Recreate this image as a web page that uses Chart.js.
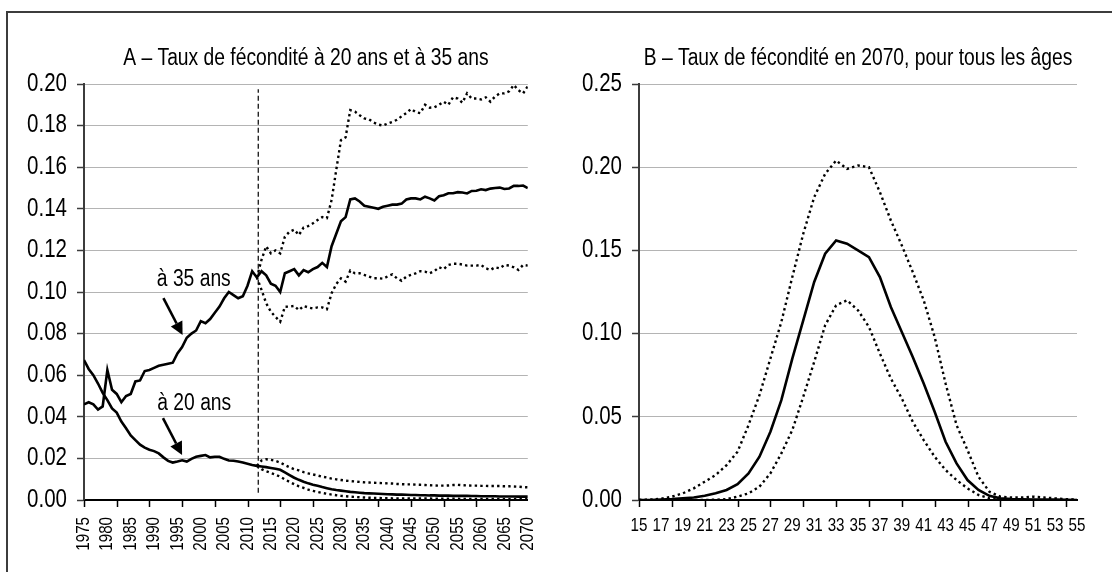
<!DOCTYPE html>
<html>
<head>
<meta charset="utf-8">
<script src="https://cdn.jsdelivr.net/npm/chart.js@4.4.0/dist/chart.umd.min.js"></script>
<style>
  body { margin: 0; background: #fff; }
  #wrap { position: relative; width: 1112px; height: 572px; overflow: hidden; }
  #frame { position: absolute; left: 6px; top: 11px; width: 1300px; height: 800px;
           border-left: 2px solid #3c3c3c; border-top: 2px solid #3c3c3c; }
  .box { position: absolute; top: 0; height: 572px; }
</style>
</head>
<body>
<div id="wrap">
  <div id="frame"></div>
  <div class="box" style="left:0;width:560px"><canvas id="chartA"></canvas></div>
  <div class="box" style="left:560px;width:552px"><canvas id="chartB"></canvas></div>
</div>
<script>
// ---- Panel A: rates at age 20 and 35, 1975-2070 ----
const firstYear = 1975;
const lastYear = 2070;
const projStart = 2012;
const yearLabels = [1975, 1980, 1985, 1990, 1995, 2000, 2005, 2010, 2015, 2020,
  2025, 2030, 2035, 2040, 2045, 2050, 2055, 2060, 2065, 2070];
const yearMarks = [1975, 1982, 1989, 1996, 2003, 2010, 2017, 2024, 2031, 2038,
  2045, 2052, 2059, 2066];
const rateTicksA = [0, 0.02, 0.04, 0.06, 0.08, 0.10, 0.12, 0.14, 0.16, 0.18, 0.20];

// central series, one value per year from 1975
const rate35 = [
  0.046, 0.047, 0.046, 0.0435, 0.045, 0.0625, 0.053, 0.051, 0.047, 0.050,
  0.051, 0.057, 0.0575, 0.062, 0.0625, 0.0635, 0.0645, 0.065, 0.0655, 0.066,
  0.0705, 0.0735, 0.078, 0.080, 0.0815, 0.086, 0.085, 0.087, 0.090, 0.093,
  0.097, 0.100, 0.0985, 0.097, 0.098, 0.103, 0.110, 0.107, 0.110, 0.108,
  0.104, 0.103, 0.100, 0.109, 0.110, 0.111, 0.108, 0.1105, 0.1095, 0.111,
  0.112, 0.114, 0.112, 0.122, 0.128, 0.134, 0.136, 0.1445, 0.145, 0.1435,
  0.1415, 0.141, 0.1405, 0.140, 0.141, 0.1415, 0.142, 0.142, 0.1425, 0.1445,
  0.145, 0.145, 0.1445, 0.1458, 0.145, 0.144, 0.146, 0.1465, 0.1475, 0.1475,
  0.148, 0.1478, 0.1474, 0.1486, 0.1487, 0.1494, 0.149, 0.1497, 0.150, 0.1502,
  0.1495, 0.1498, 0.151, 0.151, 0.1512, 0.150
];
const rate20 = [
  0.0673, 0.063, 0.060, 0.056, 0.0515, 0.048, 0.044, 0.042, 0.0377, 0.0345,
  0.031, 0.0288, 0.0266, 0.0252, 0.0242, 0.0235, 0.0224, 0.0205, 0.0188, 0.018,
  0.0185, 0.0191, 0.0185, 0.0198, 0.0208, 0.0212, 0.0216, 0.0205, 0.0208, 0.0208,
  0.0198, 0.019, 0.0189, 0.0185, 0.018, 0.0174, 0.0168, 0.0164, 0.0161, 0.0158,
  0.0154, 0.015, 0.0145, 0.0133, 0.012, 0.0107, 0.0097, 0.0088, 0.008, 0.0073,
  0.0068, 0.0062, 0.0057, 0.0052, 0.0048, 0.0045, 0.0042, 0.0039, 0.0037, 0.0035,
  0.0033, 0.0032, 0.0031, 0.003, 0.0029, 0.0028, 0.0027, 0.0026, 0.0026, 0.0025,
  0.0024, 0.0024, 0.0023, 0.0023, 0.0022, 0.0022, 0.0021, 0.0021, 0.0021, 0.002,
  0.002, 0.002, 0.002, 0.0019, 0.0019, 0.0018, 0.0018, 0.0018, 0.0018, 0.0017,
  0.0017, 0.0017, 0.0017, 0.0016, 0.0016, 0.0016
];

// projection bounds, one value per year from 2012
const rate35High = [
  0.107, 0.1155, 0.122, 0.1186, 0.120, 0.1186, 0.1266, 0.129, 0.130, 0.1274,
  0.131, 0.1317, 0.133, 0.1346, 0.136, 0.1355, 0.1442, 0.1587, 0.173, 0.1744,
  0.1875, 0.1867, 0.185, 0.1835, 0.183, 0.1815, 0.1805, 0.180, 0.181, 0.1818,
  0.1828, 0.1845, 0.186, 0.188, 0.1865, 0.186, 0.190, 0.1886, 0.1888, 0.190,
  0.1915, 0.190, 0.1936, 0.193, 0.191, 0.1955, 0.193, 0.193, 0.1926, 0.1936,
  0.1915, 0.194, 0.1955, 0.1955, 0.1965, 0.1995, 0.197, 0.1955, 0.199
];
const rate35Low = [
  0.107, 0.101, 0.0946, 0.0905, 0.088, 0.0857, 0.0929, 0.093, 0.0933, 0.0913,
  0.0933, 0.0926, 0.0921, 0.0926, 0.0926, 0.0917, 0.0994, 0.1038, 0.1066, 0.105,
  0.1103, 0.109, 0.109, 0.1082, 0.1074, 0.1066, 0.1066, 0.1064, 0.1075, 0.1085,
  0.1066, 0.1054, 0.1074, 0.1082, 0.109, 0.110, 0.1098, 0.109, 0.110, 0.1119,
  0.111, 0.113, 0.1136, 0.1136, 0.1132, 0.1127, 0.1127, 0.1127, 0.113, 0.1114,
  0.1106, 0.1119, 0.1114, 0.113, 0.1127, 0.1119, 0.1106, 0.113, 0.1127
];
const rate20High = [
  0.0164, 0.019, 0.0196, 0.0193, 0.0188, 0.018, 0.0168, 0.0157, 0.0148, 0.0142,
  0.0134, 0.0128, 0.0123, 0.0118, 0.0112, 0.0108, 0.0103, 0.0099, 0.0096, 0.0093,
  0.0091, 0.0089, 0.0087, 0.0085, 0.0084, 0.0083, 0.0082, 0.0081, 0.008, 0.0079,
  0.0077, 0.0076, 0.0075, 0.0075, 0.0074, 0.0073, 0.0072, 0.0071, 0.007, 0.0069,
  0.0069, 0.007, 0.0072, 0.0073, 0.0071, 0.007, 0.0069, 0.0069, 0.0068, 0.0068,
  0.0067, 0.0067, 0.0067, 0.0066, 0.0066, 0.0065, 0.0064, 0.0062, 0.0061
];
const rate20Low = [
  0.0164, 0.0148, 0.0138, 0.013, 0.0122, 0.0112, 0.0099, 0.0087, 0.0076, 0.0066,
  0.0058, 0.005, 0.0044, 0.0039, 0.0034, 0.003, 0.0026, 0.0023, 0.002, 0.0018,
  0.0016, 0.0015, 0.0013, 0.0012, 0.0011, 0.001, 0.001, 0.0009, 0.0009, 0.0008,
  0.0008, 0.0008, 0.0008, 0.0007, 0.0007, 0.0007, 0.0007, 0.0007, 0.0006, 0.0006,
  0.0006, 0.0006, 0.0006, 0.0006, 0.0005, 0.0005, 0.0005, 0.0005, 0.0005, 0.0005,
  0.0005, 0.0005, 0.0005, 0.0004, 0.0004, 0.0004, 0.0004, 0.0004, 0.0004
];

// ---- Panel B: rates by age in 2070 ----
const ages = [15, 16, 17, 18, 19, 20, 21, 22, 23, 24, 25, 26, 27, 28, 29, 30, 31, 32, 33, 34,
  35, 36, 37, 38, 39, 40, 41, 42, 43, 44, 45, 46, 47, 48, 49, 50, 51, 52, 53, 54, 55];
const ageLabels = [15, 17, 19, 21, 23, 25, 27, 29, 31, 33, 35, 37, 39, 41, 43, 45, 47, 49, 51, 53, 55];
const ageMarks = [15, 18, 21, 24, 27, 30, 33, 36, 39, 42, 45, 48, 51, 54];
const rateTicksB = [0, 0.05, 0.10, 0.15, 0.20, 0.25];
const ageMid = [
  0, 0, 0.0002, 0.0005, 0.001, 0.0015, 0.0025, 0.004, 0.006, 0.0095,
  0.016, 0.026, 0.041, 0.060, 0.085, 0.108, 0.131, 0.148, 0.156, 0.154,
  0.150, 0.146, 0.134, 0.116, 0.101, 0.086, 0.070, 0.053, 0.035, 0.022,
  0.012, 0.006, 0.0025, 0.001, 0.0006, 0.0004, 0.0003, 0.0003, 0.0002, 0.0001, 0
];
const ageHigh = [
  0, 0.0002, 0.0008, 0.002, 0.004, 0.007, 0.011, 0.015, 0.021, 0.029,
  0.045, 0.063, 0.085, 0.107, 0.134, 0.160, 0.182, 0.196, 0.204, 0.199,
  0.201, 0.200, 0.185, 0.168, 0.153, 0.137, 0.120, 0.098, 0.070, 0.045,
  0.030, 0.014, 0.005, 0.002, 0.0015, 0.0015, 0.002, 0.0015, 0.001, 0.0005, 0.0002
];
const ageLow = [
  0, 0, 0, 0, 0, 0, 0, 0.0002, 0.0005, 0.002,
  0.004, 0.008, 0.016, 0.028, 0.042, 0.062, 0.083, 0.105, 0.117, 0.120,
  0.114, 0.104, 0.088, 0.073, 0.061, 0.047, 0.036, 0.026, 0.018, 0.012,
  0.007, 0.003, 0.001, 0.0005, 0.0003, 0.0002, 0.0001, 0.0001, 0.0001, 0.0001, 0.0001
];

const FONT = "'Liberation Sans', Arial, sans-serif";
Chart.defaults.font.family = FONT;
Chart.defaults.color = '#000';

// No narrow font is installed: squeeze text drawn on our canvases horizontally
// (Arial Narrow is basically Arial at ~82% width). Text stays real fillText.
const NARROW = 0.82;
const origFillText = CanvasRenderingContext2D.prototype.fillText;
CanvasRenderingContext2D.prototype.fillText = function (text, x, y, maxWidth) {
  const k = this.narrow;
  if (!k) return origFillText.apply(this, arguments);
  this.save();
  this.translate(x, y);
  this.scale(k, 1);
  if (maxWidth === undefined) origFillText.call(this, text, 0, 0);
  else origFillText.call(this, text, 0, 0, maxWidth / k);
  this.restore();
};
const origMeasure = CanvasRenderingContext2D.prototype.measureText;
CanvasRenderingContext2D.prototype.measureText = function (text) {
  const m = origMeasure.call(this, text);
  const k = this.narrow;
  if (!k) return m;
  return {
    width: m.width * k,
    actualBoundingBoxLeft: m.actualBoundingBoxLeft * k,
    actualBoundingBoxRight: m.actualBoundingBoxRight * k,
    actualBoundingBoxAscent: m.actualBoundingBoxAscent,
    actualBoundingBoxDescent: m.actualBoundingBoxDescent
  };
};

const toPoints = (start, vals) => vals.map((v, i) => ({ x: start + i, y: v }));

const solidLine = { borderColor: '#000', borderWidth: 2.6, pointRadius: 0, tension: 0, fill: false };
const dottedLine = { ...solidLine, borderWidth: 2.4, borderDash: [2.4, 3.2] };

// small tick marks under the x axis (they are not at the label positions)
const xTickMarks = {
  id: 'xTickMarks',
  afterDraw(chart, args, opts) {
    const { ctx } = chart;
    const x = chart.scales.x;
    const y0 = chart.chartArea.bottom;
    ctx.save();
    ctx.strokeStyle = '#000';
    ctx.lineWidth = 1.5;
    opts.values.forEach(v => {
      const px = Math.round(x.getPixelForValue(v)) + 0.5;
      ctx.beginPath();
      ctx.moveTo(px, y0);
      ctx.lineTo(px, y0 + 7);
      ctx.stroke();
    });
    ctx.restore();
  }
};

function drawArrow(ctx, x1, y1, x2, y2) {
  const a = Math.atan2(y2 - y1, x2 - x1);
  const L = 13, W = 6.5;
  const bx = x2 - L * Math.cos(a), by = y2 - L * Math.sin(a);
  ctx.beginPath();
  ctx.moveTo(x1, y1);
  ctx.lineTo(bx, by);
  ctx.stroke();
  ctx.beginPath();
  ctx.moveTo(x2, y2);
  ctx.lineTo(bx - W * Math.sin(a), by + W * Math.cos(a));
  ctx.lineTo(bx + W * Math.sin(a), by - W * Math.cos(a));
  ctx.closePath();
  ctx.fill();
}

// projection start line + "à 20 ans" / "à 35 ans" labels, placed in data units
const annotations = {
  id: 'annotations',
  afterDatasetsDraw(chart, args, opts) {
    const { ctx } = chart;
    const { x, y } = chart.scales;
    ctx.save();
    ctx.strokeStyle = '#000';
    ctx.fillStyle = '#000';
    if (opts.split) {
      const px = x.getPixelForValue(opts.split.x);
      ctx.lineWidth = 1.2;
      ctx.setLineDash([5, 3]);
      ctx.beginPath();
      ctx.moveTo(px, y.getPixelForValue(opts.split.from));
      ctx.lineTo(px, y.getPixelForValue(opts.split.to));
      ctx.stroke();
      ctx.setLineDash([]);
    }
    ctx.font = '23.5px ' + FONT;
    ctx.textAlign = 'center';
    ctx.textBaseline = 'middle';
    ctx.lineWidth = 2.6;
    (opts.notes || []).forEach(n => {
      ctx.fillText(n.text, x.getPixelForValue(n.at[0]), y.getPixelForValue(n.at[1]));
      drawArrow(ctx,
        x.getPixelForValue(n.from[0]), y.getPixelForValue(n.from[1]),
        x.getPixelForValue(n.to[0]), y.getPixelForValue(n.to[1]));
    });
    ctx.restore();
  }
};

function yAxis(max, ticks, width) {
  return {
    min: 0, max: max,
    afterBuildTicks: s => { s.ticks = ticks.map(v => ({ value: v })); },
    afterFit: s => { s.width = width; },
    ticks: { padding: 10, font: { size: 25 }, callback: v => v.toFixed(2) },
    grid: {
      color: c => (c.tick && c.tick.value === 0 ? 'rgba(0,0,0,0)' : '#b4b4b4'),
      lineWidth: 1, borderDash: [1, 2],
      drawTicks: true, tickLength: 7, tickColor: '#3c3c3c', tickWidth: 1.5, tickBorderDash: []
    },
    border: { color: '#3c3c3c', width: 2 }
  };
}

function titleOpts(text) {
  return {
    display: true, text: text, fullSize: false, color: '#000',
    font: { size: 23.5, weight: 'normal' },
    padding: { top: 44, bottom: 11.8 }
  };
}

const canvasA = document.getElementById('chartA');
const canvasB = document.getElementById('chartB');
canvasA.getContext('2d').narrow = NARROW;
canvasB.getContext('2d').narrow = NARROW;

new Chart(canvasA, {
  type: 'line',
  data: {
    datasets: [
      { ...dottedLine, data: toPoints(projStart, rate35High) },
      { ...dottedLine, data: toPoints(projStart, rate35Low) },
      { ...dottedLine, data: toPoints(projStart, rate20High) },
      { ...dottedLine, data: toPoints(projStart, rate20Low) },
      { ...solidLine, data: toPoints(firstYear, rate35) },
      { ...solidLine, data: toPoints(firstYear, rate20) }
    ]
  },
  options: {
    animation: false,
    responsive: true,
    maintainAspectRatio: false,
    layout: { padding: { left: 0, right: 31, top: 0, bottom: 0 } },
    scales: {
      x: {
        type: 'linear', min: firstYear, max: lastYear,
        afterBuildTicks: s => { s.ticks = yearLabels.map(v => ({ value: v })); },
        afterFit: s => { s.height = 72; },
        ticks: { autoSkip: false, minRotation: 90, maxRotation: 90, padding: 10,
                 font: { size: 18.5 }, callback: v => String(v) },
        grid: { drawOnChartArea: false, drawTicks: true, tickLength: 7, tickColor: 'rgba(0,0,0,0)' },
        border: { color: '#000', width: 2 }
      },
      y: yAxis(0.2, rateTicksA, 84)
    },
    plugins: {
      legend: { display: false },
      tooltip: { enabled: false },
      title: titleOpts('A – Taux de fécondité à 20 ans et à 35 ans'),
      xTickMarks: { values: yearMarks },
      annotations: {
        split: { x: 2012.3, from: 0.0035, to: 0.1975 },
        notes: [
          { text: 'à 35 ans', at: [1998.5, 0.1058], from: [1992.0, 0.0971], to: [1996.1, 0.0793] },
          { text: 'à 20 ans', at: [1998.6, 0.0462], from: [1991.9, 0.0394], to: [1996.0, 0.0216] }
        ]
      }
    }
  },
  plugins: [xTickMarks, annotations]
});

new Chart(canvasB, {
  type: 'line',
  data: {
    datasets: [
      { ...dottedLine, data: ages.map((a, i) => ({ x: a, y: ageHigh[i] })) },
      { ...dottedLine, data: ages.map((a, i) => ({ x: a, y: ageLow[i] })) },
      { ...solidLine, data: ages.map((a, i) => ({ x: a, y: ageMid[i] })) }
    ]
  },
  options: {
    animation: false,
    responsive: true,
    maintainAspectRatio: false,
    layout: { padding: { left: 0, right: 35, top: 0, bottom: 0 } },
    scales: {
      x: {
        type: 'linear', min: 15, max: 55,
        afterBuildTicks: s => { s.ticks = ageLabels.map(v => ({ value: v })); },
        afterFit: s => { s.height = 72; },
        ticks: { autoSkip: false, maxRotation: 0, padding: 8, font: { size: 18.5 } },
        grid: { drawOnChartArea: false, drawTicks: true, tickLength: 7, tickColor: 'rgba(0,0,0,0)' },
        border: { color: '#000', width: 2 }
      },
      y: yAxis(0.25, rateTicksB, 79)
    },
    plugins: {
      legend: { display: false },
      tooltip: { enabled: false },
      title: titleOpts('B – Taux de fécondité en 2070, pour tous les âges'),
      xTickMarks: { values: ageMarks },
      annotations: {}
    }
  },
  plugins: [xTickMarks, annotations]
});
</script>
</body>
</html>
